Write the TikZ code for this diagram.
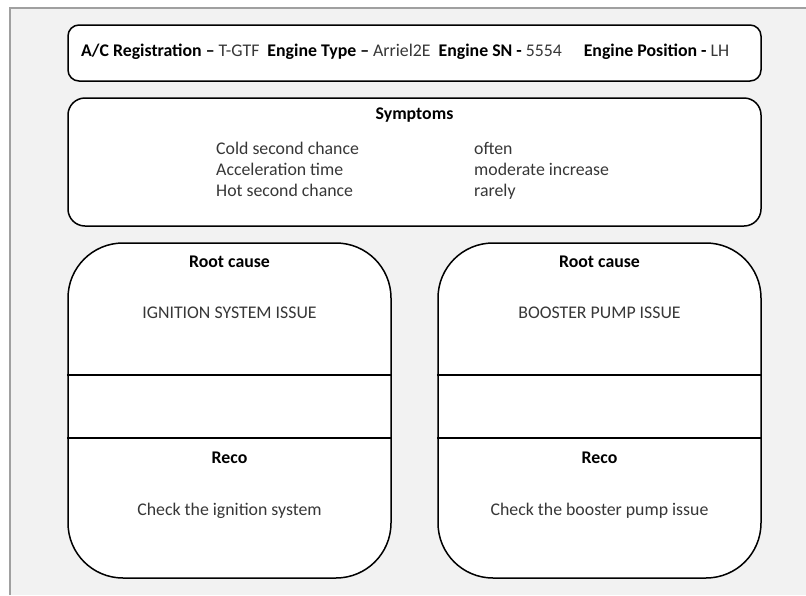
\documentclass[tikz,border=0pt]{standalone}
\usepackage{fontspec}
\setmainfont{Carlito}
\definecolor{paper}{RGB}{242,242,242}
\definecolor{framegray}{RGB}{160,160,160}
\definecolor{txtgray}{RGB}{55,55,55}
\newcommand{\bodyfont}{\fontsize{17.8}{21}\selectfont}
\tikzset{
  panel/.style={draw=black, line width=1.5pt, fill=white, inner sep=0pt},
  hdrbox/.style={panel, rounded corners=11pt, minimum width=693pt, minimum height=56pt},
  symbox/.style={panel, rounded corners=17pt, minimum width=693pt, minimum height=128pt},
  rootbox/.style={panel, rounded corners=55pt, minimum width=323pt, minimum height=335pt},
  divider/.style={line width=1.5pt},
  label/.style={font=\bodyfont\bfseries, text=black},
  entry/.style={text=txtgray, text height=12pt, text depth=4pt}
}
\begin{document}
\begin{tikzpicture}[x=1pt, y=-1pt, every node/.style={font=\bodyfont, inner sep=0pt}]
  \useasboundingbox (0,0) rectangle (806,595);
  % page background
  \fill[white] (0,0) rectangle (806,595);
  \fill[paper] (10,8) rectangle (806,595);
  \draw[framegray, line width=2pt] (10,595) -- (10,8) -- (806,8);
  % header
  \node[hdrbox] (hdr) at (414.5,53) {};
  \node[anchor=west, text=txtgray] (hdrtxt) at (81,52)
    {\textbf{\color{black}A/C Registration –} T-GTF\ \ \textbf{\color{black}Engine Type –} Arriel2E\ \ \textbf{\color{black}Engine SN -} 5554\quad\ \textbf{\color{black}Engine Position -} LH};
  % symptoms
  \node[symbox] (sym) at (414.5,162) {};
  \node[label] (symtitle) at (414.5,115) {Symptoms};
  \node[entry, anchor=west] (symA) at (216,150) {Cold second chance};
  \node[entry, anchor=west] (symB) at (216,171) {Acceleration time};
  \node[entry, anchor=west] (symC) at (216,192) {Hot second chance};
  \node[entry, anchor=west] (valA) at (474,150) {often};
  \node[entry, anchor=west] (valB) at (474,171) {moderate increase};
  \node[entry, anchor=west] (valC) at (474,192) {rarely};
  % left root cause
  \node[rootbox] (rootL) at (229.5,410.5) {};
  \draw[divider] (rootL.west |- 0,375) -- (rootL.east |- 0,375);
  \draw[divider] (rootL.west |- 0,438) -- (rootL.east |- 0,438);
  \node[label] (causeL) at (229.5,262) {Root cause};
  \node[entry] (issueL) at (229.5,314) {IGNITION SYSTEM ISSUE};
  \node[label] (recoL) at (229.5,458) {Reco};
  \node[entry] (checkL) at (229.5,511) {Check the ignition system};
  % right root cause
  \begin{scope}[xshift=370pt]
    \node[rootbox] (rootR) at (229.5,410.5) {};
    \draw[divider] (rootR.west |- 0,375) -- (rootR.east |- 0,375);
    \draw[divider] (rootR.west |- 0,438) -- (rootR.east |- 0,438);
    \node[label] (causeR) at (229.5,262) {Root cause};
    \node[entry] (issueR) at (229.5,314) {BOOSTER PUMP ISSUE};
    \node[label] (recoR) at (229.5,458) {Reco};
    \node[entry] (checkR) at (229.5,511) {Check the booster pump issue};
  \end{scope}
\end{tikzpicture}
\end{document}
